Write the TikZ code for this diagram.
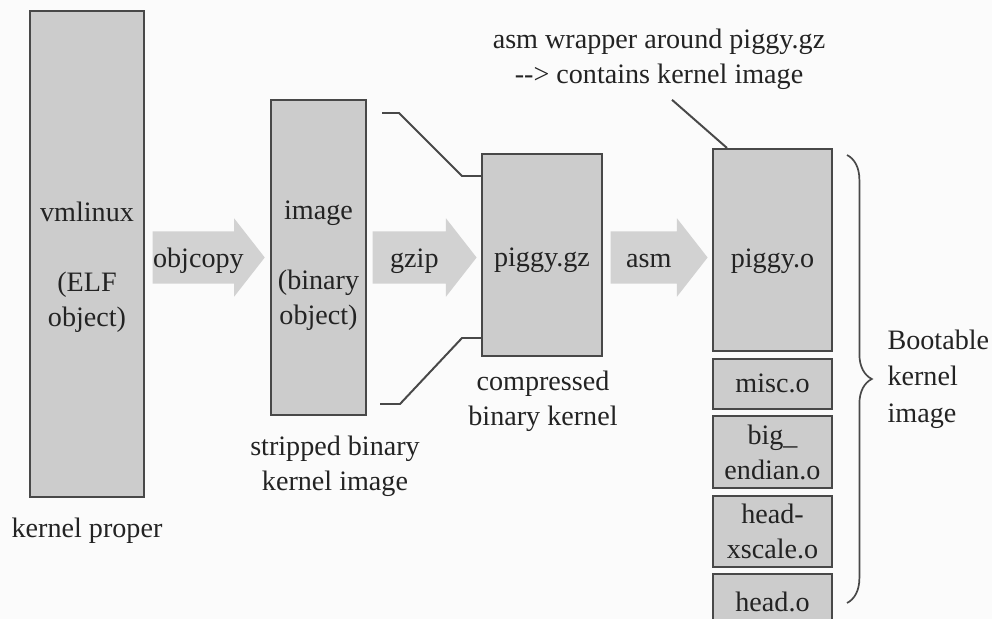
\documentclass[tikz,border=0pt]{standalone}
\usepackage{fontspec}
\setmainfont{Liberation Serif}
\usepackage{tikz}
\usetikzlibrary{positioning,calc,shapes.arrows,decorations.pathreplacing}
\definecolor{boxgray}{RGB}{204,204,204}
\definecolor{arrowgray}{RGB}{210,210,210}
\definecolor{edgegray}{RGB}{72,72,72}
\definecolor{txtgray}{RGB}{35,35,35}
\definecolor{bggray}{RGB}{251,251,251}

\begin{document}
\begin{tikzpicture}[
  x=0.0125cm, y=-0.0125cm,
  font=\fontsize{10}{12.5}\selectfont,
  text=txtgray,
  node distance=0.7mm,
  box/.style={draw=edgegray, line width=0.7pt, fill=boxgray, align=center,
              inner sep=0pt},
  stack/.style={box, minimum width=1.4875cm},
  conv/.style={single arrow, fill=arrowgray, draw=none,
               single arrow head extend=0.1625cm, single arrow tip angle=104,
               text height=0.35cm, text depth=0.09cm, inner ysep=0.1cm,
               inner xsep=0pt, anchor=tail},
  caption/.style={align=center},
  leader/.style={draw=edgegray, line width=0.7pt}
]
\fill[bggray] (0,0) rectangle (992,619);
\useasboundingbox (0,0) rectangle (992,619);

% objects
\node[box, minimum width=1.425cm, minimum height=6.075cm] (vmlinux) at (87,254) {};
\node[caption] (vmlinuxtxt) at ($(vmlinux)+(0,13)$) {vmlinux\\[12.5pt](ELF\\object)};
\node[box, minimum width=1.1875cm, minimum height=3.9375cm] (image) at (318.5,257.5) {};
\node[caption] (imagetxt) at ($(image)+(0,8)$) {image\\[12.5pt](binary\\object)};
\node[box, minimum width=1.5cm, minimum height=2.5125cm, text height=10.6pt,
      text depth=2.2pt] (piggygz) at (542,255) {piggy.gz};
\node[stack, minimum height=2.525cm, text height=14.8pt, text depth=2.2pt]
  (piggyo) at (772.5,250) {piggy.o};
\node[stack, minimum height=0.625cm, below=of piggyo] (misco) {misc.o};
\node[stack, minimum height=0.9cm, below=of misco] (bigendian) {big\_\\endian.o};
\node[stack, minimum height=0.8875cm, below=of bigendian] (headxscale) {head-\\xscale.o};
\node[stack, minimum height=0.68cm, below=of headxscale] (heado) {head.o};

% conversion steps
\node[conv, minimum height=1.375cm] (objcopy) at (152,257.5) {objcopy};
\node[conv, minimum height=1.3cm] (gzip) at (372,257.5) {gzip};
\node[conv, minimum height=1.2125cm] (asm) at (610,257.5) {asm};

% captions
\node[caption] (kproper) at (87,531) {kernel proper};
\node[caption] (stripped) at (335,466) {stripped binary\\kernel image};
\node[caption] (compressed) at (543,401) {compressed\\binary kernel};
\node[caption] (wrapnote) at (659,59.5)
  {asm wrapper around piggy.gz\\-{}-{}> contains kernel image};
\node[anchor=west, align=left, inner sep=0pt, font=\fontsize{10}{13}\selectfont]
  (bootable) at (887,379) {Bootable\\kernel\\image};

% zoom lines and pointer
\draw[leader] (382,113) -- (399,113) -- (462,176) -- (piggygz.west |- 0,176);
\draw[leader] (380,404) -- (400,404) -- (462,338) -- (piggygz.west |- 0,338);
\draw[leader] ($(wrapnote.south)+(13,0)$) -- ($(piggyo.north west)+(15,0)$);
\draw[leader, line width=0.6pt, decorate, decoration={brace, amplitude=0.31cm}]
  (847,155) -- (847,603);
\end{tikzpicture}
\end{document}
